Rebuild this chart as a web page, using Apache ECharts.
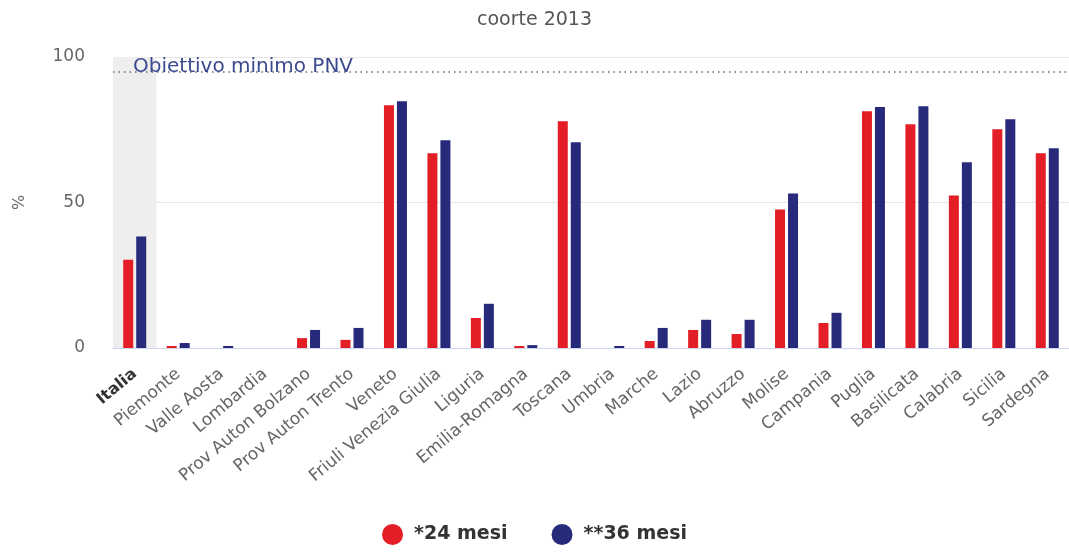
<!DOCTYPE html>
<html>
<head>
<meta charset="utf-8">
<script src="https://cdn.jsdelivr.net/npm/echarts@6/dist/echarts.min.js"></script>
<style>
  html, body { margin: 0; padding: 0; background: #fff; }
  #chart { width: 1069px; height: 552px; }
</style>
</head>
<body>
<div id="chart"></div>
<script>
var regions = ['Italia', 'Piemonte', 'Valle Aosta', 'Lombardia', 'Prov Auton Bolzano', 'Prov Auton Trento',
  'Veneto', 'Friuli Venezia Giulia', 'Liguria', 'Emilia-Romagna', 'Toscana', 'Umbria', 'Marche', 'Lazio',
  'Abruzzo', 'Molise', 'Campania', 'Puglia', 'Basilicata', 'Calabria', 'Sicilia', 'Sardegna']
var mesi24 = [30.3, 0.7, 0, 0, 3.4, 2.8, 83.4, 66.9, 10.3, 0.7, 77.9, 0, 2.4, 6.2, 4.8, 47.6, 8.6, 81.4, 76.9, 52.4, 75.2, 66.9]
var mesi36 = [38.3, 1.7, 0.7, 0, 6.2, 6.9, 84.8, 71.4, 15.2, 1.0, 70.7, 0.7, 6.9, 9.7, 9.7, 53.1, 12.1, 82.8, 83.1, 63.8, 78.6, 68.6]
var seriesNames = ['*24 mesi', '**36 mesi']
var objective = 95
var highlighted = 'Italia'

var chart = echarts.init(document.getElementById('chart'))

// banda grigia dietro la colonna evidenziata
var band = regions.map(function (r) { return r === highlighted ? 100 : '-' })

var option = {
  animation: false,
  textStyle: { fontFamily: 'DejaVu Sans' },
  title: {
    text: 'coorte 2013',
    left: 'center',
    top: 6,
    textStyle: { fontSize: 19, fontWeight: 'normal', color: '#555', fontFamily: 'DejaVu Sans' }
  },
  legend: {
    data: seriesNames,
    bottom: 2,
    left: 'center',
    icon: 'circle',
    itemWidth: 21,
    itemHeight: 21,
    itemGap: 44,
    textStyle: { fontSize: 19, fontWeight: 'bold', color: '#333', padding: [0, 0, 0, 6] }
  },
  grid: { left: 113, right: 0, top: 57, bottom: 204 },
  xAxis: [{
    type: 'category',
    data: regions,
    axisLine: { lineStyle: { color: '#ccd6eb' } },
    axisTick: { length: 15, lineStyle: { color: '#ccd6eb' } },
    axisLabel: {
      rotate: 40,
      interval: 0,
      margin: 24,
      fontSize: 17,
      color: '#666',
      formatter: function (v) {
        return v === highlighted ? '{b|' + v + '}' : v
      },
      rich: { b: { fontWeight: 'bold', color: '#333', fontSize: 16 } }
    }
  }, {
    // asse di appoggio per la banda
    type: 'category',
    data: regions,
    show: false
  }],
  yAxis: {
    type: 'value',
    min: 0,
    max: 100,
    interval: 50,
    name: '%',
    nameLocation: 'middle',
    nameGap: 85,
    nameRotate: 90,
    nameTextStyle: { fontSize: 16, color: '#666' },
    axisLine: { show: false },
    axisTick: { show: false },
    axisLabel: { fontSize: 17, color: '#666', margin: 28 },
    splitLine: { lineStyle: { color: '#e6e6e6' } }
  },
  series: [{
    type: 'bar',
    xAxisIndex: 1,
    data: band,
    barWidth: '100%',
    silent: true,
    z: 1,
    itemStyle: { color: '#eeeeee' }
  }, {
    name: seriesNames[0],
    type: 'bar',
    data: mesi24,
    barWidth: 10,
    barGap: '30%',
    z: 3,
    itemStyle: { color: '#e31e26' },
    markLine: {
      silent: true,
      symbol: 'none',
      data: [{ yAxis: objective }],
      lineStyle: { type: [1.5, 4], color: '#666', width: 1.5 },
      label: {
        formatter: 'Obiettivo minimo PNV',
        position: 'insideStartTop',
        distance: [20, -5],
        fontSize: 20,
        color: '#3b4a8f'
      }
    }
  }, {
    name: seriesNames[1],
    type: 'bar',
    data: mesi36,
    barWidth: 10,
    z: 3,
    itemStyle: { color: '#27297a' }
  }]
}

chart.setOption(option)
</script>
</body>
</html>
